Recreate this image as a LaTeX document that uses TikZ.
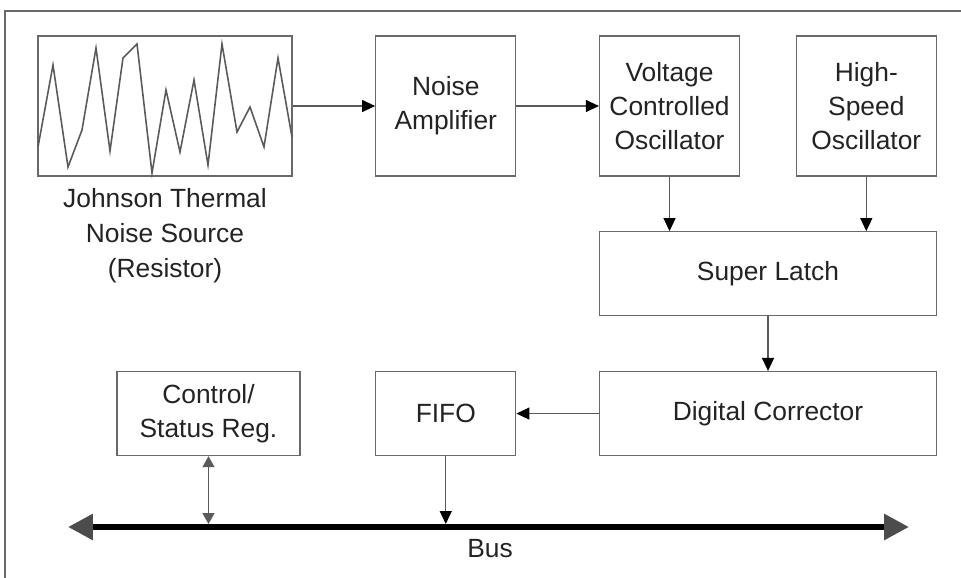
\documentclass[tikz,border=0pt]{standalone}
\usepackage{fontspec}
\setmainfont{Liberation Sans}
\usepackage{tikz}
\usetikzlibrary{positioning, arrows.meta}

\definecolor{boxGray}{RGB}{105, 105, 105}
\definecolor{lineGray}{RGB}{90, 90, 90}
\definecolor{textDark}{RGB}{35, 35, 35}

\begin{document}
\begin{tikzpicture}[
    x=0.02cm, y=-0.02cm,
    block/.style={rectangle, draw=boxGray, line width=0.75pt, minimum width=2.8cm,
                  minimum height=2.8cm, align=center, text=textDark,
                  font=\fontsize{15}{19.4}\selectfont},
    wide/.style={block, minimum width=6.74cm, minimum height=1.68cm},
    arrow/.style={-{Triangle[length=0.26cm, width=0.24cm, color=black]}, draw=lineGray, line width=0.7pt},
    dblarrow/.style={{Triangle[length=0.22cm, width=0.24cm]}-{Triangle[length=0.22cm, width=0.24cm]},
                     draw=lineGray, line width=0.7pt},
    bus/.style={{Triangle[length=0.5cm, width=0.5cm, color=black!70]}-{Triangle[length=0.5cm, width=0.5cm, color=black!70]},
                draw=black, line width=0.12cm},
  ]
    \useasboundingbox (0,0) rectangle (961,578);
    \draw[boxGray, line width=1pt] (5,578) -- (5,11) -- (961,11);

    % top row
    \node[block, minimum width=5.08cm] (NS) at (165,106) {};
    \node[block, right=1.65cm of NS] (AMP) {Noise\\Amplifier};
    \node[block, right=1.65cm of AMP] (VCO) {Voltage\\Controlled\\Oscillator};
    \node[block, right=1.11cm of VCO] (HSO) {High-\\Speed\\Oscillator};

    \node[align=center, text=textDark, font=\fontsize{15}{19.8}\selectfont,
          below=0.12cm of NS] (NSLABEL) {Johnson Thermal\\Noise Source\\(Resistor)};

    % noise trace
    \draw[lineGray, line width=0.9pt, line join=miter]
      (38,147) -- (53,65) -- (68,167) -- (82,130) -- (96,48) -- (110,151)
      -- (123,58) -- (137,44) -- (152,173) -- (166,90) -- (180,152) -- (194,80)
      -- (208,165) -- (222,44) -- (237,132) -- (250,107) -- (264,147)
      -- (278,58) -- (292,137);

    % right column
    \node[wide, below=1.09cm of VCO.south west, anchor=north west] (LATCH) {Super Latch};
    \node[wide, below=1.09cm of LATCH] (DC) {Digital Corrector};

    % bottom row
    \node[block, minimum height=1.68cm, left=1.65cm of DC] (FIFO) {FIFO};
    \node[block, minimum width=3.66cm, minimum height=1.68cm, left=1.49cm of FIFO] (CSR) {Control/\\Status Reg.};

    \coordinate (busL) at (68,527);
    \coordinate (busR) at (909,527);
    \node[text=textDark, font=\fontsize{15}{18}\selectfont] (BUSLABEL) at (490,549) {Bus};

    \draw[arrow] (NS) -- (AMP);
    \draw[arrow] (AMP) -- (VCO);
    \draw[arrow] (VCO) -- (VCO |- LATCH.north);
    \draw[arrow] (HSO) -- (HSO |- LATCH.north);
    \draw[arrow] (LATCH) -- (DC);
    \draw[arrow] (DC) -- (FIFO);
    \draw[arrow, shorten >=0.06cm] (FIFO) -- (FIFO |- busL);
    \draw[dblarrow, shorten >=0.06cm] (CSR) -- (CSR |- busL);

    \draw[bus] (busL) -- (busR);
\end{tikzpicture}
\end{document}
